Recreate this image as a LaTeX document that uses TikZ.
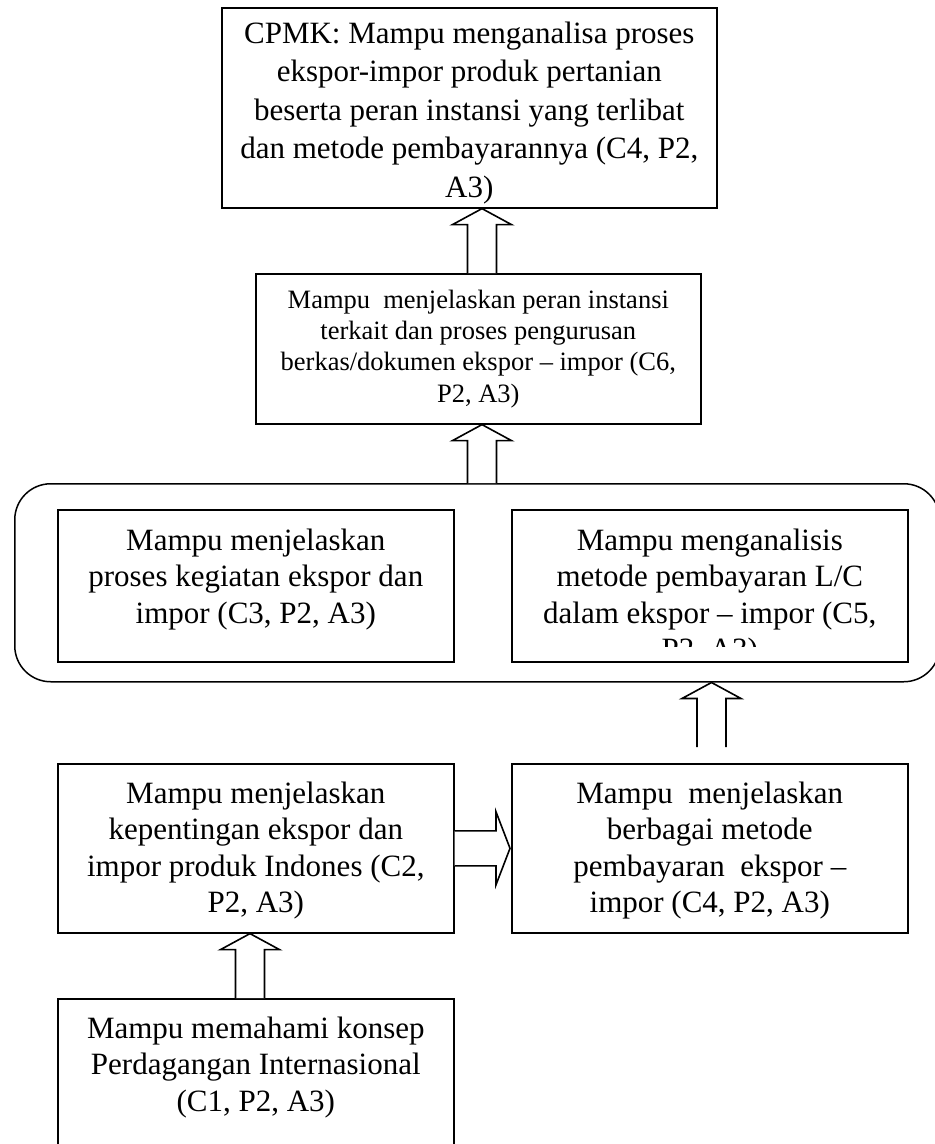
\documentclass[tikz,border=0pt]{standalone}
\usepackage{fontspec}
\setmainfont{Liberation Serif}
\usetikzlibrary{calc}
\newcommand\uparr[2]{\draw[blockarrow] let \p1=(#1), \p2=(#2) in
  (\x1-14.5pt,\y1) -- (\x1-14.5pt,\y2-16pt) -- (\x1-29.5pt,\y2-16pt) -- (\x1,\y2)
  -- (\x1+29.5pt,\y2-16pt) -- (\x1+14.5pt,\y2-16pt) -- (\x1+14.5pt,\y1);}
\newcommand\rtarr[2]{\draw[blockarrow] let \p1=(#1), \p2=(#2) in
  (\x1,\y1+17.5pt) -- (\x2-15pt,\y1+17.5pt) -- (\x2-15pt,\y1+36.5pt) -- (\x2-1pt,\y1)
  -- (\x2-15pt,\y1-36.5pt) -- (\x2-15pt,\y1-17.5pt) -- (\x1,\y1-17.5pt);}
\begin{document}
\begin{tikzpicture}[x=1pt,y=1pt,
  box/.style={draw, line width=1.6pt, rectangle, inner sep=0pt, anchor=north west},
  group/.style={draw, line width=1.5pt, rectangle, rounded corners=36pt, inner sep=0pt, anchor=north west},
  blockarrow/.style={draw, fill=white, line width=1.6pt, line join=miter},
  txtbig/.style={anchor=north, inner sep=0pt, align=center, font=\fontsize{31}{38.5}\selectfont},
  txtmid/.style={anchor=north, inner sep=0pt, align=center, font=\fontsize{26.5}{31.3}\selectfont},
  txt/.style={anchor=north, inner sep=0pt, align=center, font=\fontsize{31}{36.5}\selectfont}]
\useasboundingbox (0,0) rectangle (935,-1144);
\clip (0,0) rectangle (935,-1144);

% boxes
\node[box, minimum width=495pt, minimum height=200pt] (cpmk) at (221,-7) {};
\node[box, minimum width=445pt, minimum height=150pt] (peran) at (255,-273) {};
\node[group, minimum width=925pt, minimum height=198pt] (grp) at (14,-483) {};
\node[box, minimum width=396pt, minimum height=152pt] (proses) at (57,-509) {};
\node[box, minimum width=396pt, minimum height=152pt] (lc) at (511,-509) {};
\node[box, minimum width=396pt, minimum height=169pt] (penting) at (57,-763) {};
\node[box, minimum width=396pt, minimum height=169pt] (metode) at (511,-763) {};
\node[box, minimum width=396pt, minimum height=160pt] (konsep) at (57,-998) {};

% texts
\node[txtbig] (cpmk-t) at ($(cpmk.north)+(0,-12)$) {\rule{0pt}{24pt}CPMK: Mampu menganalisa proses\\ ekspor-impor produk pertanian\\ beserta peran instansi yang terlibat\\ dan metode pembayarannya (C4, P2,\\ A3)};
\node[txtmid] (peran-t) at ($(peran.north)+(0,-15)$) {\rule{0pt}{20pt}Mampu\ \ menjelaskan peran instansi\\ terkait dan proses pengurusan\\ berkas/dokumen ekspor – impor (C6,\\ P2, A3)};
\node[txt] (proses-t) at ($(proses.north)+(0,-17)$) {\rule{0pt}{24pt}Mampu menjelaskan\\ proses kegiatan ekspor dan\\ impor (C3, P2, A3)};
\begin{scope}
\clip (511,-509) rectangle (907,-646);
\node[txt] (lc-t) at ($(lc.north)+(0,-17)$) {\rule{0pt}{24pt}Mampu menganalisis\\ metode pembayaran L/C\\ dalam ekspor – impor (C5,\\ P2, A3)};
\end{scope}
\node[txt] (penting-t) at ($(penting.north)+(0,-16)$) {\rule{0pt}{24pt}Mampu menjelaskan\\ kepentingan ekspor dan\\ impor produk Indones (C2,\\ P2, A3)};
\node[txt] (metode-t) at ($(metode.north)+(0,-16)$) {\rule{0pt}{24pt}Mampu\ \ menjelaskan\\ berbagai metode\\ pembayaran\ \ ekspor –\\ impor (C4, P2, A3)};
\node[txt] (konsep-t) at ($(konsep.north)+(0,-16)$) {\rule{0pt}{24pt}Mampu memahami konsep\\ Perdagangan Internasional\\ (C1, P2, A3)};

% arrows
\uparr{$(peran.north west)+(227,0)$}{cpmk.south}
\uparr{$(grp.north west)+(468,0)$}{peran.south}
\uparr{$(metode.north west)+(200.5,16)$}{grp.south}
\uparr{$(konsep.north west)+(193,0)$}{penting.south}
\rtarr{penting.east}{metode.west}
\end{tikzpicture}
\end{document}
